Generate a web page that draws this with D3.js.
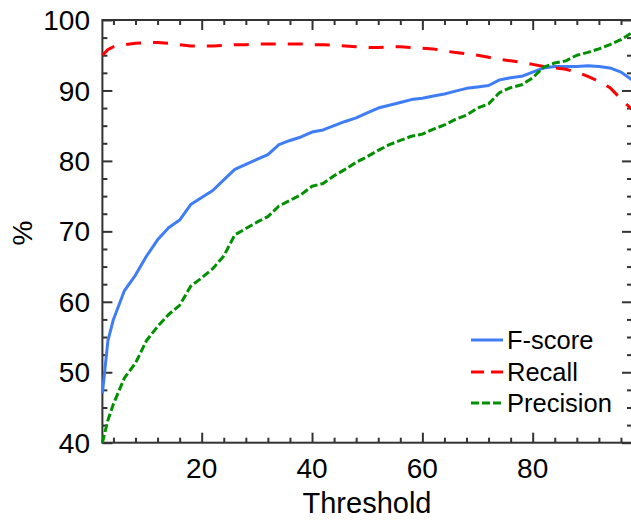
<!DOCTYPE html>
<html>
<head>
<meta charset="utf-8">
<script src="https://cdn.jsdelivr.net/npm/d3@7"></script>
<style>
  body { margin: 0; background: #fff; }
  svg { display: block; font-family: Arial, "Liberation Sans", sans-serif; }
</style>
</head>
<body>
<script>
// thresholds (x) and the three curves
var threshold = [2,3,4,6,8,10,12,14,16,18,20,22,24,26,28,30,32,34,36,38,40,42,44,46,48,50,
                 52,54,56,58,60,62,64,66,68,70,72,74,76,78,80,82,84,86,88,90,92,94,96,98];
var fscore = [47,54.5,57.5,61.6,63.8,66.5,68.8,70.5,71.6,73.8,74.8,75.8,77.3,78.8,79.5,80.2,80.9,82.3,82.9,83.4,
              84.1,84.4,85.0,85.6,86.1,86.8,87.5,87.9,88.3,88.7,88.9,89.2,89.5,89.9,90.3,90.5,90.7,91.5,91.8,92.0,
              92.6,93.2,93.4,93.4,93.4,93.5,93.4,93.2,92.6,91.5];
var recall = [95,95.8,96.2,96.5,96.7,96.8,96.8,96.7,96.5,96.3,96.3,96.3,96.4,96.5,96.5,96.6,96.6,96.6,96.6,96.6,
              96.5,96.5,96.4,96.3,96.2,96.1,96.1,96.2,96.2,96.1,96.0,95.9,95.6,95.4,95.2,95.0,94.7,94.4,94.2,94.0,
              93.7,93.4,93.2,93.0,92.6,92.0,91.3,90.4,88.8,87.3];
var precision = [40,43.2,45.5,49.2,51.3,54.5,56.5,58.2,59.5,62.2,63.4,64.7,66.5,69.5,70.4,71.3,72.1,73.6,74.4,75.2,
                 76.4,76.8,77.9,78.8,79.8,80.6,81.5,82.3,82.9,83.5,83.8,84.5,85.1,85.9,86.5,87.5,88.1,89.7,90.4,90.8,
                 91.8,93.3,93.9,94.2,95.0,95.4,95.9,96.5,97.2,98.2];
var seriesNames = ['F-score', 'Recall', 'Precision'];
var xTicks = [20, 40, 60, 80];
var yTicks = [40, 50, 60, 70, 80, 90, 100];

var W = 631, H = 521;
var mLeft = 102.4, mRight = 632, mTop = 20, mBottom = 442.7;

var svg = d3.select('body').append('svg')
            .attr('width', W)
            .attr('height', H);

var x = d3.scaleLinear().domain([2, 98]).range([mLeft, mRight]);
var y = d3.scaleLinear().domain([40, 100]).range([mBottom, mTop]);

var axisColor = '#333';

// minor / major ticks on all four sides, all pointing inward
var xMinor = d3.range(4, 98, 4).filter(function(v){ return v % 20 !== 0; });
var yMinor = d3.range(40, 100.01, 2.5).filter(function(v){ return v % 10 !== 0; });

function styleAxis(g){
  g.select('.domain').remove();
  g.selectAll('.tick line').attr('stroke', axisColor).attr('stroke-width', 2);
}

// bottom
svg.append('g').attr('transform', 'translate(0,' + mBottom + ')')
   .call(d3.axisTop(x).tickValues(xTicks).tickSize(10).tickFormat('')).call(styleAxis);
svg.append('g').attr('transform', 'translate(0,' + mBottom + ')')
   .call(d3.axisTop(x).tickValues(xMinor).tickSize(5).tickFormat('')).call(styleAxis);
// top
svg.append('g').attr('transform', 'translate(0,' + mTop + ')')
   .call(d3.axisBottom(x).tickValues(xTicks).tickSize(10).tickFormat('')).call(styleAxis);
svg.append('g').attr('transform', 'translate(0,' + mTop + ')')
   .call(d3.axisBottom(x).tickValues(xMinor).tickSize(5).tickFormat('')).call(styleAxis);
// left
svg.append('g').attr('transform', 'translate(' + mLeft + ',0)')
   .call(d3.axisRight(y).tickValues(yTicks).tickSize(10).tickFormat('')).call(styleAxis);
svg.append('g').attr('transform', 'translate(' + mLeft + ',0)')
   .call(d3.axisRight(y).tickValues(yMinor).tickSize(5).tickFormat('')).call(styleAxis);
// right
svg.append('g').attr('transform', 'translate(' + mRight + ',0)')
   .call(d3.axisLeft(y).tickValues(yTicks).tickSize(10).tickFormat('')).call(styleAxis);
svg.append('g').attr('transform', 'translate(' + mRight + ',0)')
   .call(d3.axisLeft(y).tickValues(yMinor).tickSize(5).tickFormat('')).call(styleAxis);

// frame
svg.append('rect')
   .attr('x', mLeft).attr('y', mTop)
   .attr('width', mRight - mLeft).attr('height', mBottom - mTop)
   .attr('fill', 'none').attr('stroke', axisColor).attr('stroke-width', 2);

// tick labels
svg.selectAll('.xlab').data(xTicks).enter().append('text')
   .attr('x', function(d){ return x(d); })
   .attr('y', 478)
   .attr('text-anchor', 'middle')
   .attr('font-size', 28)
   .text(function(d){ return d; });

svg.selectAll('.ylab').data(yTicks).enter().append('text')
   .attr('x', 90)
   .attr('y', function(d){ return y(d); })
   .attr('dy', '0.36em')
   .attr('text-anchor', 'end')
   .attr('font-size', 28)
   .text(function(d){ return d; });

// axis titles
svg.append('text')
   .attr('x', 367).attr('y', 513)
   .attr('text-anchor', 'middle')
   .attr('font-size', 29)
   .text('Threshold');

svg.append('text')
   .attr('transform', 'translate(32,233) rotate(-90)')
   .attr('text-anchor', 'middle')
   .attr('font-size', 28)
   .text('%');

// curves
var colors = ['#3f7df7', '#ff0000', '#009000'];
var dashes = [null, '15,12', '8,3'];
var allSeries = [fscore, recall, precision];

var line = d3.line()
  .x(function(d){ return x(d[0]); })
  .y(function(d){ return y(d[1]); });

var plot = svg.append('g');
allSeries.forEach(function(vals, i){
  plot.append('path')
      .datum(threshold.map(function(t, j){ return [t, vals[j]]; }))
      .attr('fill', 'none')
      .attr('stroke', colors[i])
      .attr('stroke-width', 3)
      .attr('stroke-dasharray', dashes[i])
      .attr('stroke-linejoin', 'round')
      .attr('d', line);
});

// legend
var legendY = [340, 372, 403];
var legend = svg.append('g');
seriesNames.forEach(function(name, i){
  legend.append('line')
        .attr('x1', 471).attr('x2', 503)
        .attr('y1', legendY[i]).attr('y2', legendY[i])
        .attr('stroke', colors[i])
        .attr('stroke-width', 3)
        .attr('stroke-dasharray', i === 1 ? '13,7' : dashes[i]);
  legend.append('text')
        .attr('x', 507).attr('y', legendY[i])
        .attr('dy', '0.36em')
        .attr('font-size', 25.5)
        .text(name);
});
</script>
</body>
</html>
